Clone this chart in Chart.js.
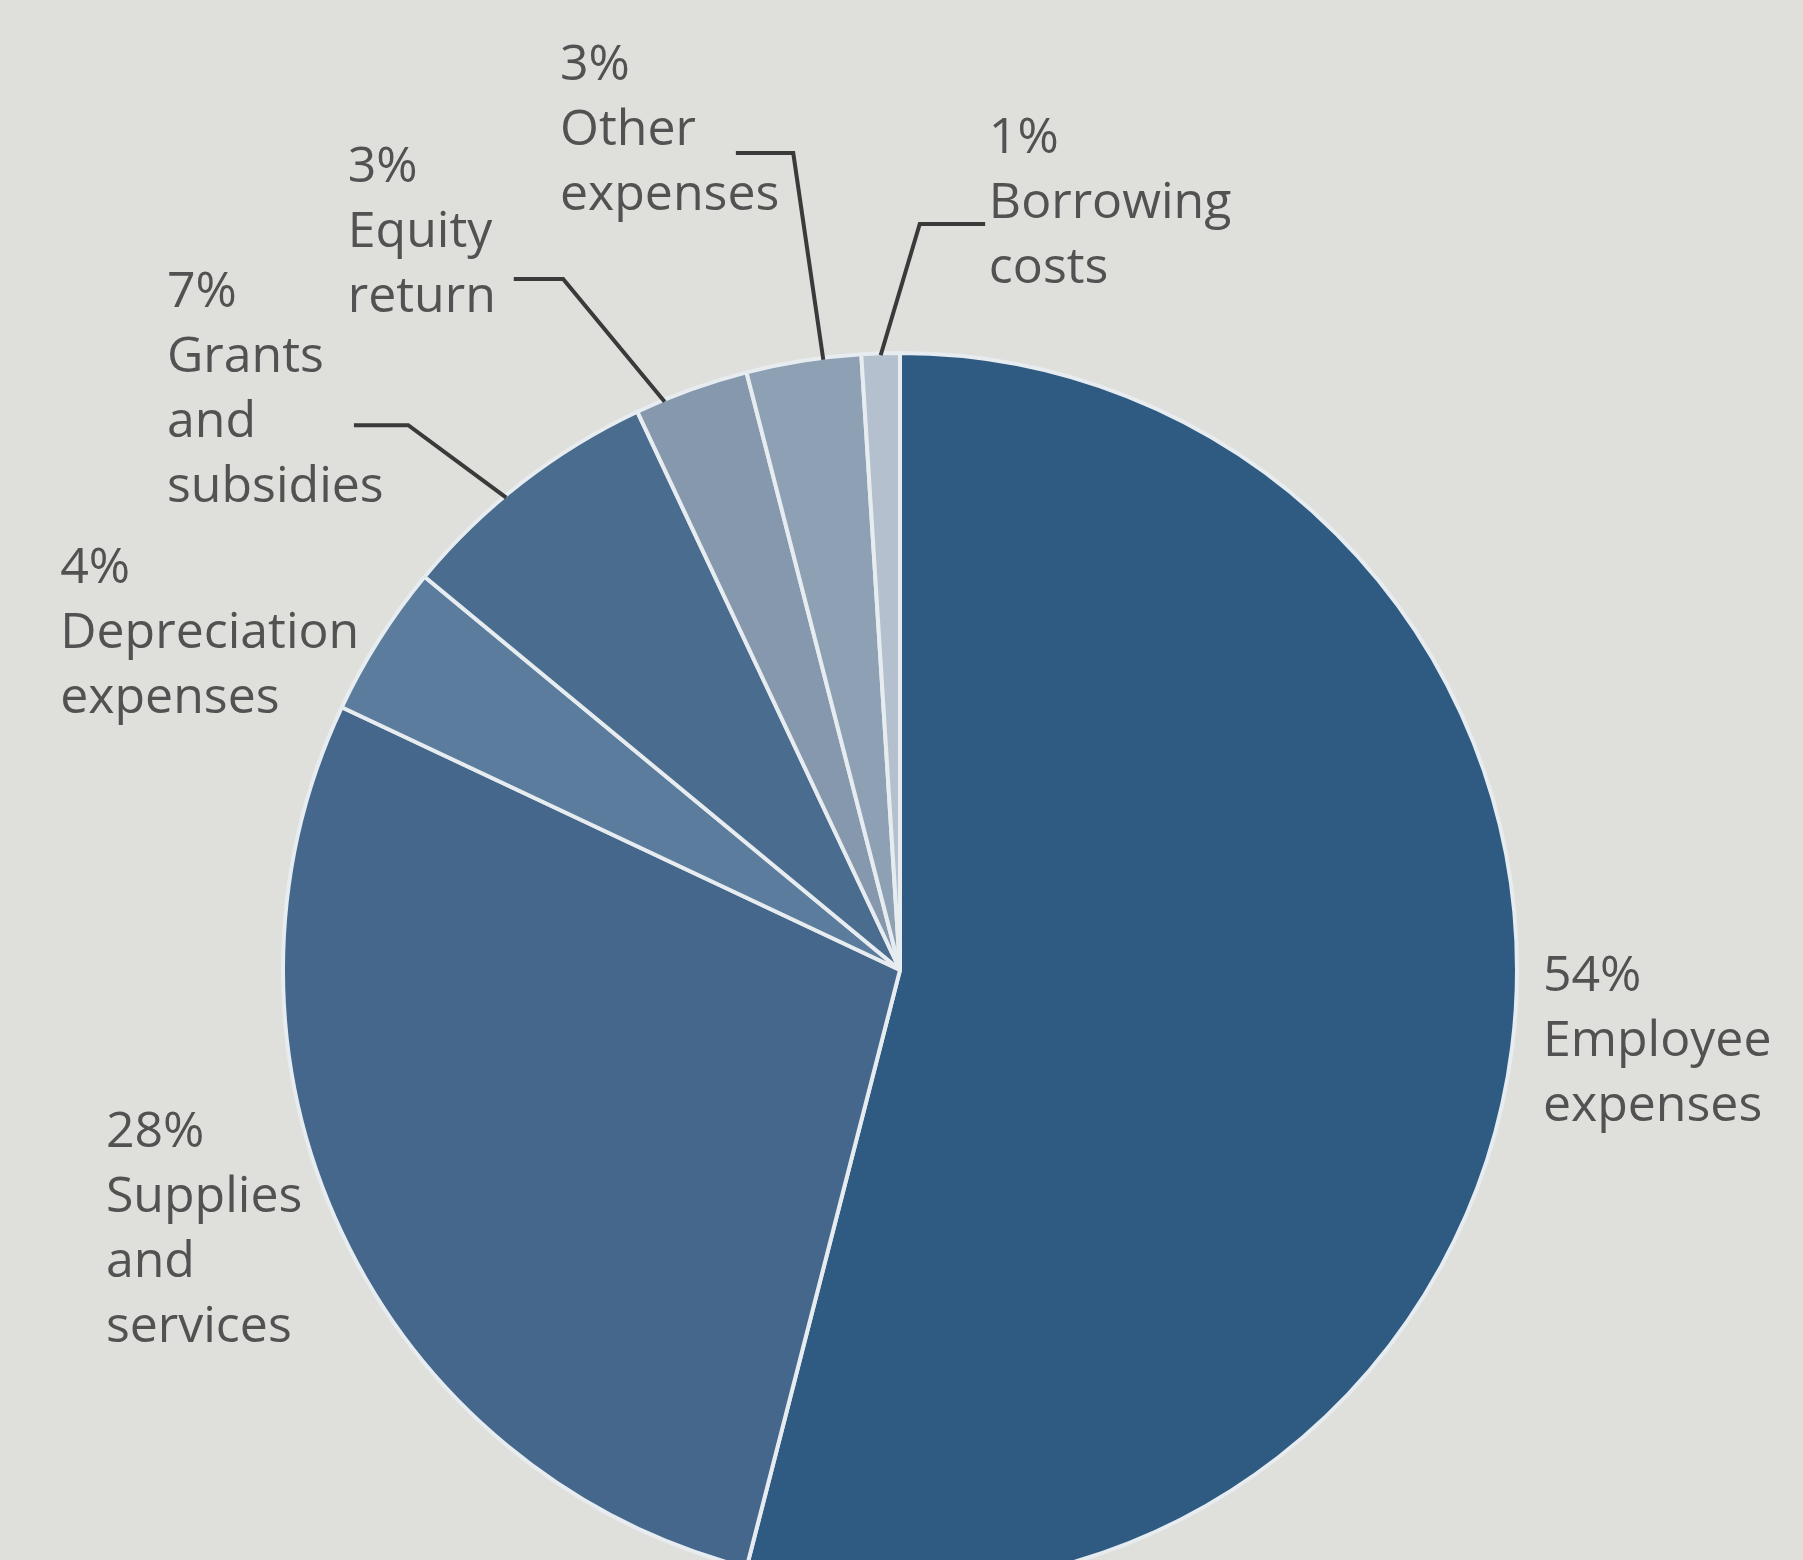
<!DOCTYPE html>
<html>
<head>
<meta charset="utf-8">
<title>Expenses by category</title>
<script src="https://cdn.jsdelivr.net/npm/chart.js@4/dist/chart.umd.min.js"></script>
<style>
  html, body { margin: 0; padding: 0; background: #dfdfdc; }
  #wrap { width: 1803px; height: 1560px; position: relative; overflow: hidden; }
</style>
</head>
<body>
<div id="wrap"><canvas id="chart" width="1803" height="1560"></canvas></div>
<script>
// Expense categories, clockwise from twelve o'clock
const categories = [
  'Employee expenses', 'Supplies and services', 'Depreciation expenses',
  'Grants and subsidies', 'Equity return', 'Other expenses', 'Borrowing costs'
];
// How each category name is broken over lines in its label
const labelLines = [
  ['Employee', 'expenses'],
  ['Supplies', 'and', 'services'],
  ['Depreciation', 'expenses'],
  ['Grants', 'and', 'subsidies'],
  ['Equity', 'return'],
  ['Other', 'expenses'],
  ['Borrowing', 'costs']
];
// Share of total expenses, per cent
const shares = [54, 28, 4, 7, 3, 3, 1];

// Slice fills
const sliceColors = ['#2f5a81', '#44678b', '#5b7c9d', '#4a6c8e', '#8598ad', '#8da0b4', '#b4c0cd'];

// Label placement, in units of the pie radius measured from the pie centre:
// x = left edge of text, y = middle of the first line
const labelPlacement = [
  { x: 1.042, y: 0.011 },
  { x: -1.287, y: 0.264 },
  { x: -1.361, y: -0.650 },
  { x: -1.188, y: -1.097 },
  { x: -0.895, y: -1.301 },
  { x: -0.551, y: -1.465 },
  { x: 0.144, y: -1.348 }
];
// Leader lines for the small slices: start point and elbow (radius units),
// and where along the slice's arc the line touches the rim (0..1)
const leaders = [
  null, null, null,
  { from: [-0.885, -0.883], elbow: [-0.797, -0.883], along: 0.42 },
  { from: [-0.626, -1.120], elbow: [-0.546, -1.120], along: 0.25 },
  { from: [-0.266, -1.324], elbow: [-0.173, -1.324], along: 0.67 },
  { from: [0.138, -1.209], elbow: [0.032, -1.209], along: 0.5 }
];

const PIE_RADIUS = 617;
const TEXT_FONT = '50px "Open Sans", "Noto Sans", sans-serif';
const LINE_HEIGHT = 65;

const paperBackground = {
  id: 'paperBackground',
  beforeDraw(chart) {
    const ctx = chart.ctx;
    ctx.save();
    ctx.fillStyle = '#dfdfdc';
    ctx.fillRect(0, 0, chart.width, chart.height);
    ctx.restore();
  }
};

const sliceLabels = {
  id: 'sliceLabels',
  afterDatasetsDraw(chart) {
    const ctx = chart.ctx;
    const meta = chart.getDatasetMeta(0);
    const values = chart.data.datasets[0].data;
    ctx.save();
    meta.data.forEach((arc, i) => {
      const { x: cx, y: cy, startAngle, endAngle, outerRadius: r } = arc.getProps(
        ['x', 'y', 'startAngle', 'endAngle', 'outerRadius'], true);

      const lead = leaders[i];
      if (lead) {
        const a = startAngle + lead.along * (endAngle - startAngle);
        ctx.beginPath();
        ctx.moveTo(cx + lead.from[0] * r, cy + lead.from[1] * r);
        ctx.lineTo(cx + lead.elbow[0] * r, cy + lead.elbow[1] * r);
        ctx.lineTo(cx + Math.cos(a) * (r - 2), cy + Math.sin(a) * (r - 2));
        ctx.strokeStyle = '#3a3a3a';
        ctx.lineWidth = 4;
        ctx.lineJoin = 'miter';
        ctx.stroke();
      }

      const place = labelPlacement[i];
      const lines = [values[i] + '%'].concat(labelLines[i]);
      ctx.font = TEXT_FONT;
      ctx.fillStyle = '#525252';
      ctx.textAlign = 'left';
      ctx.textBaseline = 'middle';
      lines.forEach((t, k) => {
        ctx.fillText(t, cx + place.x * r, cy + place.y * r + k * LINE_HEIGHT);
      });
    });
    ctx.restore();
  }
};

new Chart(document.getElementById('chart'), {
  type: 'pie',
  data: {
    labels: categories,
    datasets: [{
      data: shares,
      backgroundColor: sliceColors,
      borderColor: '#e6ecef',
      borderWidth: 4,
      radius: PIE_RADIUS
    }]
  },
  options: {
    responsive: false,
    devicePixelRatio: 1,
    animation: false,
    layout: { padding: { top: 380, bottom: 0, left: 0, right: 3 } },
    plugins: {
      legend: { display: false },
      tooltip: { enabled: false },
      title: { display: false }
    }
  },
  plugins: [paperBackground, sliceLabels]
});
</script>
</body>
</html>
